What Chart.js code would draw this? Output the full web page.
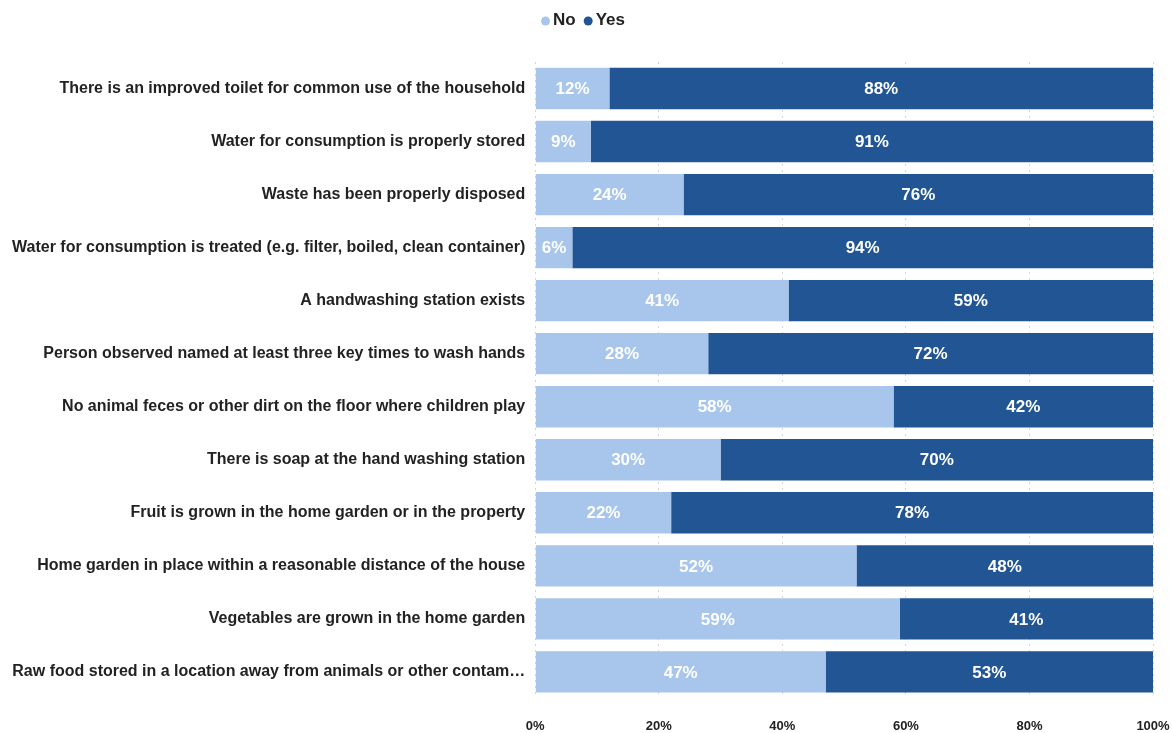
<!DOCTYPE html>
<html>
<head>
<meta charset="utf-8">
<script src="https://cdn.jsdelivr.net/npm/chart.js@4/dist/chart.umd.min.js"></script>
<style>
  html, body { margin: 0; padding: 0; background: #fff; }
  #wrap { width: 1172px; height: 733px; position: relative; }
</style>
</head>
<body>
<div id="wrap"><canvas id="chart"></canvas></div>
<script>
const categories = [
  "There is an improved toilet for common use of the household",
  "Water for consumption is properly stored",
  "Waste has been properly disposed",
  "Water for consumption is treated (e.g. filter, boiled, clean container)",
  "A handwashing station exists",
  "Person observed named at least three key times to wash hands",
  "No animal feces or other dirt on the floor where children play",
  "There is soap at the hand washing station",
  "Fruit is grown in the home garden or in the property",
  "Home garden in place within a reasonable distance of the house",
  "Vegetables are grown in the home garden",
  "Raw food stored in a location away from animals or other contam\u2026"
];
const noValues  = [12, 9, 24, 6, 41, 28, 58, 30, 22, 52, 59, 47];
const yesValues = [88, 91, 76, 94, 59, 72, 42, 70, 78, 48, 41, 53];
const xTicks = [0, 20, 40, 60, 80, 100];

const FONT = "'Liberation Sans', Arial, sans-serif";

// Compact legend: small dot tight against its label, centred above the plot
const compactLegend = {
  id: 'compactLegend',
  afterDraw(chart) {
    const ctx = chart.ctx;
    const items = chart.data.datasets.map(ds => ({ text: ds.label, color: ds.backgroundColor }));
    const r = 4.5, dotGap = 3, itemGap = 8;
    ctx.save();
    ctx.font = "bold 17px " + FONT;
    ctx.textBaseline = 'middle';
    ctx.textAlign = 'left';
    const widths = items.map(it => r * 2 + dotGap + ctx.measureText(it.text).width);
    const total = widths.reduce((a, b) => a + b, 0) + itemGap * (items.length - 1);
    let x = chart.width / 2 - total / 2 - 3;
    const y = 20;
    items.forEach((it, i) => {
      ctx.fillStyle = it.color;
      ctx.beginPath();
      ctx.arc(x + r, y + 1, r, 0, Math.PI * 2);
      ctx.fill();
      ctx.fillStyle = '#222';
      ctx.fillText(it.text, x + r * 2 + dotGap, y);
      x += widths[i] + itemGap;
    });
    ctx.restore();
  }
};

// Writes each segment's percentage in the middle of its bar
const barValueLabels = {
  id: 'barValueLabels',
  afterDatasetsDraw(chart) {
    const ctx = chart.ctx;
    ctx.save();
    ctx.font = "bold 17px " + FONT;
    ctx.fillStyle = '#ffffff';
    ctx.textAlign = 'center';
    ctx.textBaseline = 'middle';
    chart.data.datasets.forEach((ds, di) => {
      const meta = chart.getDatasetMeta(di);
      meta.data.forEach((bar, i) => {
        const v = ds.data[i];
        const cx = (bar.x + bar.base) / 2;
        ctx.fillText(v + '%', cx, bar.y + 1);
      });
    });
    ctx.restore();
  }
};

new Chart(document.getElementById('chart'), {
  type: 'bar',
  data: {
    labels: categories,
    datasets: [
      { label: 'No',  data: noValues,  backgroundColor: '#a8c6ec', borderWidth: 0 },
      { label: 'Yes', data: yesValues, backgroundColor: '#215594', borderWidth: 0 }
    ]
  },
  options: {
    indexAxis: 'y',
    responsive: true,
    maintainAspectRatio: false,
    animation: false,
    categoryPercentage: 0.78,
    barPercentage: 1,
    layout: { padding: { left: 2, right: 19, top: 62, bottom: -1 } },
    plugins: {
      legend: { display: false },
      tooltip: { enabled: false }
    },
    scales: {
      x: {
        stacked: true,
        min: 0,
        max: 100,
        afterBuildTicks(axis) { axis.ticks = xTicks.map(v => ({ value: v })); },
        grid: { color: '#d4d4d4', lineWidth: 1, drawTicks: true, tickLength: 20, tickColor: 'rgba(0,0,0,0)' },
        border: { display: false, dash: [2, 4] },
        ticks: {
          callback: v => v + '%',
          color: '#222',
          padding: 0,
          maxRotation: 0,
          font: { family: FONT, size: 13, weight: 'bold' }
        }
      },
      y: {
        stacked: true,
        grid: { display: false, drawTicks: false },
        border: { display: false },
        ticks: {
          color: '#222',
          padding: 10,
          autoSkip: false,
          font: { family: FONT, size: 16, weight: 'bold' }
        }
      }
    }
  },
  plugins: [barValueLabels, compactLegend]
});
</script>
</body>
</html>
